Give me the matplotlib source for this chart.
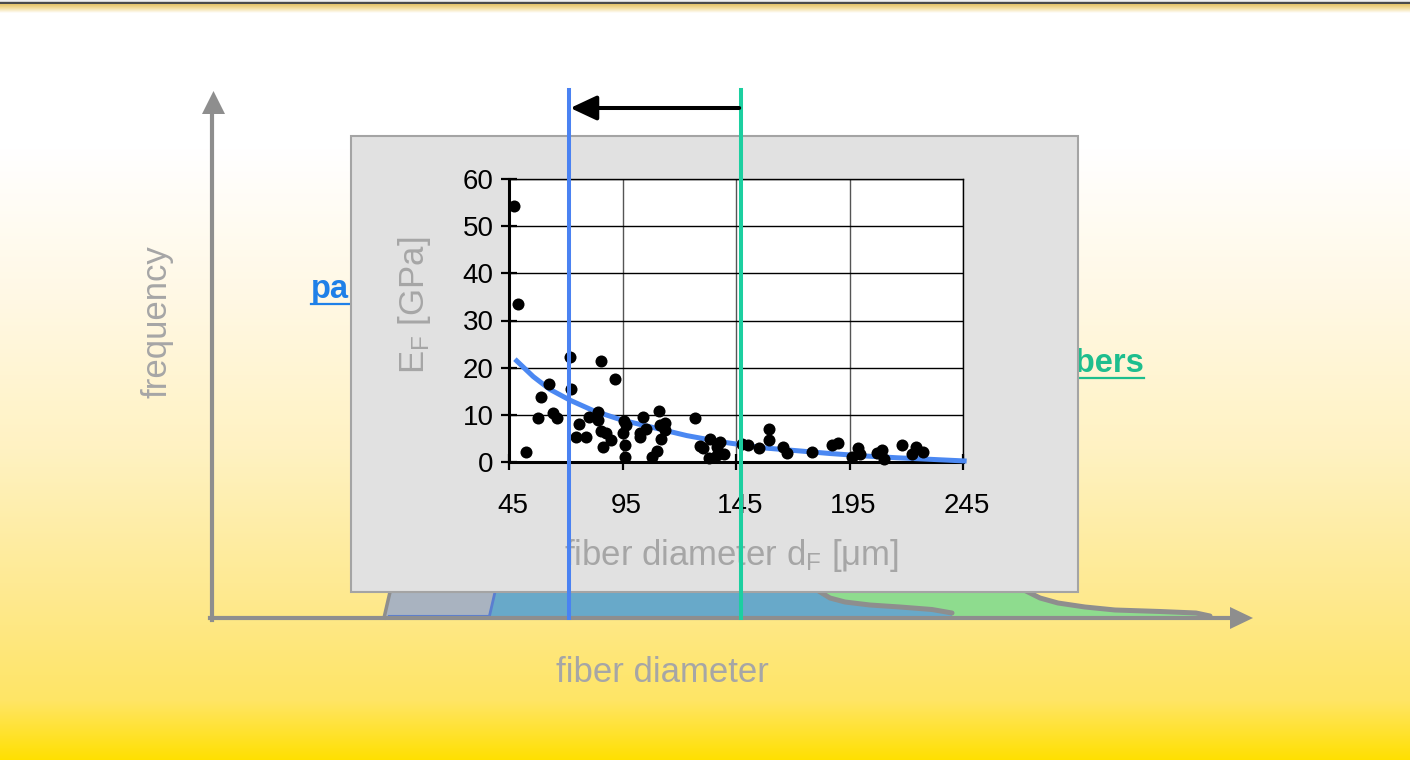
import numpy as np
import matplotlib
matplotlib.use("Agg")
import matplotlib.pyplot as plt
from matplotlib.patches import Rectangle, Polygon
from matplotlib.colors import to_rgb
from matplotlib.transforms import ScaledTranslation

plt.rcParams['font.family'] = ['Liberation Sans', 'DejaVu Sans']
plt.rcParams['mathtext.fontset'] = 'custom'
plt.rcParams['mathtext.rm'] = 'Liberation Sans'
plt.rcParams['mathtext.it'] = 'Liberation Sans:italic'

# ---------------- data (inset scatter) ----------------
diameter_um = [47.2, 49.0, 52.5, 57.6, 59.0, 62.8, 64.5, 66.0, 71.9, 72.3,
               74.6, 75.8, 78.9, 80.2, 84.0, 84.0, 85.5, 85.5, 86.5, 87.7,
               89.9, 91.7, 95.0, 95.7, 96.1, 96.1, 96.5, 102.7, 102.7, 104.2,
               105.4, 108.1, 110.0, 111.2, 111.5, 111.8, 113.7, 113.7, 126.9, 129.1,
               130.6, 133.2, 133.5, 136.5, 136.8, 137.9, 139.7, 147.5, 150.4, 155.1,
               159.7, 159.7, 165.8, 167.3, 178.3, 187.2, 190.1, 196.0, 198.9, 199.6,
               207.0, 209.2, 210.2, 218.0, 222.4, 224.3, 227.2]
modulus_gpa = [54.2, 33.5, 2.2, 9.3, 13.8, 16.5, 10.4, 9.3, 22.3, 15.4,
               5.2, 8.0, 5.2, 9.6, 10.7, 8.8, 21.4, 6.6, 3.2, 6.2,
               4.7, 17.6, 6.1, 8.7, 3.6, 1.1, 7.9, 6.2, 5.2, 9.6,
               7.1, 1.1, 2.4, 10.9, 7.8, 4.8, 8.2, 6.8, 9.3, 3.4,
               2.9, 0.8, 4.8, 3.1, 1.5, 4.3, 1.8, 3.8, 3.5, 3.0,
               7.1, 4.7, 3.1, 2.0, 2.2, 3.7, 4.1, 1.1, 2.9, 1.7,
               2.0, 2.5, 0.6, 3.7, 1.6, 3.2, 2.2]

fit_diameter = [47.6, 55.7, 63.0, 71.9, 82.1, 94.6, 108.6, 123.3, 138.0,
                157.0, 171.7, 186.4, 201.0, 215.8, 230.5, 246.6]
fit_modulus = [21.8, 18.1, 15.4, 13.1, 10.9, 8.9, 7.3, 5.6, 4.3,
               3.0, 2.4, 1.8, 1.3, 0.9, 0.57, 0.2]

x_ticks = [45, 95, 145, 195, 245]
y_ticks = [0, 10, 20, 30, 40, 50, 60]

thin_diameter = 71.4    # blue marker line
thick_diameter = 147.2  # green marker line

# ---------------- schematic distribution outlines (slide pixels) ----------------
gray_band_x = [384, 390, 495, 489]
gray_band_y = [618, 592, 592, 618]
blue_curve_x = [817, 830, 845, 870, 900, 932, 952]
blue_curve_y = [590, 598, 602, 605, 607, 609.5, 613]
green_curve_x = [1024, 1040, 1058, 1085, 1115, 1160, 1196, 1210]
green_curve_y = [590, 598, 603, 607, 610, 611.5, 613, 616]

# ---------------- figure ----------------
W, H = 1410, 760
fig = plt.figure(figsize=(W / 100, H / 100), dpi=100)
bg = fig.add_axes([0, 0, 1, 1])
bg.set_xlim(0, W)
bg.set_ylim(H, 0)
bg.axis('off')

# background gradient
stops = [(0, '#FFFFFF'), (1.5, '#D0D0D0'), (2.2, '#4A4A4A'), (3.5, '#4A4A4A'),
         (4.5, '#E4C46C'), (8, '#F2DC9C'), (13, '#FFFFFF'), (150, '#FFFFFF'),
         (300, '#FFF8E4'), (450, '#FFF2C2'), (600, '#FEE98E'), (700, '#FFE566'),
         (760, '#FFE000')]
ys = np.arange(H) + 0.5
sp = [s[0] for s in stops]
cols = np.array([to_rgb(s[1]) for s in stops])
grad = np.stack([np.interp(ys, sp, cols[:, k]) for k in range(3)], axis=1)
img = np.repeat(grad[:, None, :], 4, axis=1)
bg.imshow(img, extent=[0, W, H, 0], aspect='auto', zorder=0, interpolation='bilinear')

# distributions
green_poly = list(zip([495] + green_curve_x + [1210, 495],
                      [592] + green_curve_y + [618, 618]))
bg.add_patch(Polygon(green_poly, closed=True, fc='#8EDC8E', ec='none', zorder=1))
blue_poly = list(zip([489, 495] + blue_curve_x + [952, 489],
                     [618, 592] + blue_curve_y + [617, 617]))
bg.add_patch(Polygon(blue_poly, closed=True, fc='#68A9C9', ec='none', zorder=2))
bg.add_patch(Polygon(list(zip(gray_band_x, gray_band_y)), closed=True,
                     fc='#A9B3C0', ec='none', zorder=3))
bg.plot(gray_band_x[:2], gray_band_y[:2], color='#8E8E8E', lw=2.5, zorder=4)
bg.plot(gray_band_x[2:], gray_band_y[2:], color='#5A7ED0', lw=2, zorder=4)
bg.plot([389, 489], [616, 616], color='#5A7ED0', lw=1.5, zorder=4)
bg.plot(blue_curve_x, blue_curve_y, color='#8E8E8E', lw=3.6, solid_capstyle='round', zorder=4)
bg.plot(green_curve_x, green_curve_y, color='#8E8E8E', lw=3.6, solid_capstyle='round', zorder=4)

# big schematic axes
axc = '#8E8E8E'
bg.plot([212, 212], [620, 110], color=axc, lw=3, zorder=5)
bg.add_patch(Polygon([(202, 114), (213.5, 91), (225, 114)], closed=True, fc=axc, ec='none', zorder=5))
bg.plot([210, 1232], [618, 618], color=axc, lw=3, zorder=5)
bg.add_patch(Polygon([(1230, 607), (1253, 618), (1230, 629)], closed=True, fc=axc, ec='none', zorder=5))

bg.text(157, 322, 'frequency', rotation=90, ha='center', va='center',
        fontsize=25, color='#A6A6A6', zorder=6)
bg.text(662, 672, 'fiber diameter', ha='center', va='center',
        fontsize=25, color='#A6A6A6', zorder=6)

# partly hidden category labels
bg.text(311, 298, 'pa', ha='left', va='baseline', fontsize=23.5, fontweight='bold',
        color='#1F80E8', zorder=6)
bg.plot([311, 352], [303.5, 303.5], color='#1F80E8', lw=1.6, zorder=6)
bg.text(1144, 372, 'fibers', ha='right', va='baseline', fontsize=23.5, fontweight='bold',
        color='#1DBE8E', zorder=6)
bg.plot([1050, 1144], [378, 378], color='#1DBE8E', lw=1.6, zorder=6)

# inset gray panel
bg.add_patch(Rectangle((351, 136), 727, 456, fc='#E1E1E1', ec='#A4A4A4', lw=1.5, zorder=10))

# ---------------- inset scatter axes ----------------
ax = fig.add_axes([509 / W, (H - 462) / H, 454 / W, 283 / H], zorder=5)
ax.set_facecolor('white')
ax.set_xlim(45, 245)
ax.set_ylim(0, 60)
ax.set_xticks(x_ticks)
ax.set_yticks(y_ticks)
ax.set_axisbelow(True)
ax.yaxis.grid(True, color='black', lw=1.0)
ax.xaxis.grid(True, color='#555555', lw=1.0)
for s in ['top', 'right']:
    ax.spines[s].set_linewidth(1.0)
    ax.spines[s].set_color('black')
for s in ['left', 'bottom']:
    ax.spines[s].set_linewidth(2.2)
ax.tick_params(axis='both', direction='inout', length=12, width=1.6, labelsize=20,
               colors='black')
ax.tick_params(axis='y', pad=5)
ax.tick_params(axis='x', pad=16)
shift = ScaledTranslation(4 / 100, 0, fig.dpi_scale_trans)
for lab in ax.get_xticklabels():
    lab.set_transform(lab.get_transform() + shift)

ax.plot(fit_diameter, fit_modulus, color='#4B88F2', lw=3.6, zorder=3, clip_on=False,
        solid_capstyle='butt')
ax.scatter(diameter_um, modulus_gpa, s=75, color='black', zorder=4, clip_on=False,
           linewidths=0)

ax.set_ylabel(r'E$_{\mathrm{F}}$ [GPa]', fontsize=25, color='#A6A6A6')
ax.yaxis.set_label_coords(-0.209, 0.555)
ax.yaxis.label.set_verticalalignment('center')
ax.set_xlabel(r'fiber diameter d$_{\mathrm{F}}$ [μm]', fontsize=25, color='#A6A6A6')
ax.xaxis.set_label_coords(0.491, -0.332)
ax.xaxis.label.set_verticalalignment('center')

# marker lines spanning the slide and the shift arrow
ymin_ax = (462 - 618) / 283
ymax_ax = (462 - 90) / 283
ax.axvline(thin_diameter, ymin=ymin_ax, ymax=ymax_ax, color='#4A82F2', lw=2.9,
           clip_on=False, zorder=6)
ax.axvline(thick_diameter, ymin=ymin_ax, ymax=ymax_ax, color='#1CCFA0', lw=2.9,
           clip_on=False, zorder=6)
arrow_y = (462 - 108) / 283
ax.annotate('', xy=(thin_diameter + 0.6, arrow_y), xycoords=('data', 'axes fraction'),
            xytext=(thick_diameter - 0.8, arrow_y), textcoords=('data', 'axes fraction'),
            arrowprops=dict(arrowstyle='-|>,head_length=0.64,head_width=0.3', lw=2.9,
                            color='black', shrinkA=0, shrinkB=0, mutation_scale=25),
            annotation_clip=False, zorder=7)

fig.savefig('out.png', dpi=100)
